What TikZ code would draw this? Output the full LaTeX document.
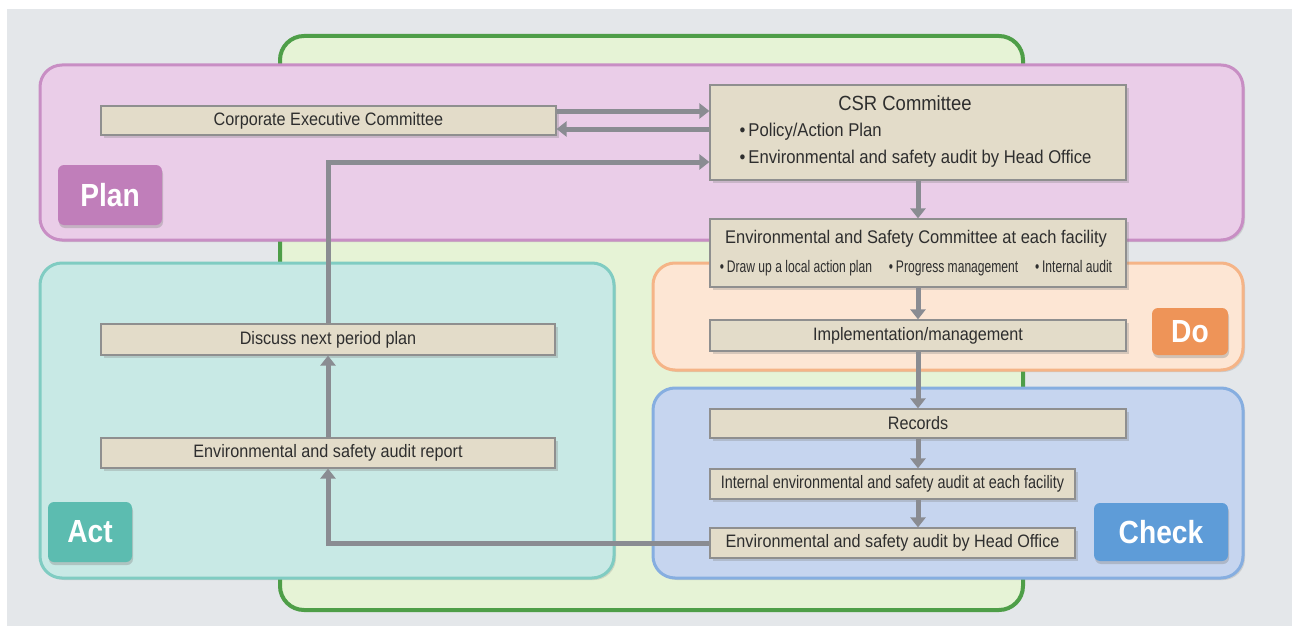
\documentclass[tikz,border=0pt]{standalone}
\usepackage{fontspec}
\setmainfont{Liberation Sans}[FakeStretch=0.9]
\newfontfamily\narrowfont{Liberation Sans}[FakeStretch=0.8]
\newfontfamily\tinyfont{Liberation Sans}[FakeStretch=0.72]
\newfontfamily\stagefont{Liberation Sans}[FakeStretch=0.88]
\usetikzlibrary{arrows.meta}
\usetikzlibrary{shadows}

\definecolor{bggray}{HTML}{E4E7EA}
\definecolor{greenfill}{HTML}{E6F3D6}
\definecolor{greenline}{HTML}{4E9E48}
\definecolor{planfill}{HTML}{EACDE8}
\definecolor{planline}{HTML}{C88EC4}
\definecolor{actfill}{HTML}{C8E9E5}
\definecolor{actline}{HTML}{80CCC2}
\definecolor{dofill}{HTML}{FDE6D4}
\definecolor{doline}{HTML}{F5B487}
\definecolor{checkfill}{HTML}{C6D5EF}
\definecolor{checkline}{HTML}{86AEE0}
\definecolor{boxfill}{HTML}{E3DCC9}
\definecolor{boxline}{HTML}{8F8F8F}
\definecolor{arrowgray}{HTML}{8A8C92}
\definecolor{textgray}{HTML}{2E2E2E}
\definecolor{plantag}{HTML}{C07EBA}
\definecolor{acttag}{HTML}{5CBCB0}
\definecolor{dotag}{HTML}{EE9458}
\definecolor{checktag}{HTML}{5E9CD8}

\begin{document}
\begin{tikzpicture}[x=1pt, y=-1pt,
		region/.style={line width=3pt, rounded corners=22pt,
			drop shadow={shadow xshift=2pt, shadow yshift=-2pt, opacity=0.25}},
		stagetag/.style={rounded corners=6pt, inner sep=0pt, text=white,
			font=\stagefont\bfseries\fontsize{32}{32}\selectfont,
			drop shadow={shadow xshift=1pt, shadow yshift=-3pt, opacity=0.35}},
		itembox/.style={draw=boxline, fill=boxfill, line width=1.2pt, inner sep=0pt,
			text=textgray, font=\fontsize{18}{20}\selectfont,
			drop shadow={shadow xshift=3pt, shadow yshift=-3pt, opacity=0.3}},
		flow/.style={draw=arrowgray, line width=5pt, -{Triangle[width=15pt,length=10pt]}},
	]
	\useasboundingbox (0,0) rectangle (1294,626);
	\fill[bggray] (7,9) rectangle (1292,626);

	% regions
	\filldraw[greenline, fill=greenfill, line width=4pt, rounded corners=24pt] (280,36) rectangle (1023,610);
	\filldraw[region, draw=planline, fill=planfill] (40,65) rectangle (1243,240);
	\filldraw[region, draw=actline, fill=actfill] (40,263) rectangle (614,578);
	\filldraw[region, draw=doline, fill=dofill] (653,263) rectangle (1243,370);
	\filldraw[region, draw=checkline, fill=checkfill] (653,388) rectangle (1243,578);

	% stage tags
	\node[stagetag, fill=plantag, minimum width=104pt, minimum height=60pt] (plan) at (110,195) {Plan};
	\node[stagetag, fill=acttag, minimum width=84pt, minimum height=60pt] (act) at (90,532) {Act};
	\node[stagetag, fill=dotag, minimum width=76pt, minimum height=47pt] (do) at (1190,331.5) {Do};
	\node[stagetag, fill=checktag, minimum width=134pt, minimum height=58pt] (check) at (1161,532) {Check};

	% boxes
	\node[itembox, minimum width=455pt, minimum height=29pt] (corp) at (328.5,120.5) {Corporate Executive Committee};
	\node[itembox, minimum width=416pt, minimum height=95pt] (csr) at (918,132.5) {};
	\node[text=textgray, font=\fontsize{20.5}{22}\selectfont] (csrtitle) at (905,103) {CSR Committee};
	\node[anchor=west, text=textgray, font=\fontsize{18.5}{20}\selectfont] (csrpolicy) at (736,132) {\textbullet\,Policy/Action Plan};
	\node[anchor=west, text=textgray, font=\fontsize{18.5}{20}\selectfont] (csraudit) at (736,159) {\textbullet\,Environmental and safety audit by Head Office};

	\node[itembox, minimum width=416pt, minimum height=68pt] (envc) at (918,253) {};
	\node[text=textgray, font=\fontsize{18.3}{20}\selectfont] (envctitle) at (916,239) {Environmental and Safety Committee at each facility};
	\node[text=textgray, font=\tinyfont\fontsize{16.8}{18}\selectfont] (envcitems) at (916,268)
		{\textbullet\,Draw up a local action plan\quad\textbullet\,Progress management\quad\textbullet\,Internal audit};

	\node[itembox, minimum width=416pt, minimum height=31pt] (impl) at (918,335.5) {Implementation/management};
	\node[itembox, minimum width=416pt, minimum height=29pt] (rec) at (918,423.5) {Records};
	\node[itembox, minimum width=365pt, minimum height=30pt, font=\narrowfont\fontsize{18}{20}\selectfont] (intaudit) at (892.5,484)
		{Internal environmental and safety audit at each facility};
	\node[itembox, minimum width=365pt, minimum height=30pt] (hoaudit) at (892.5,543) {Environmental and safety audit by Head Office};

	\node[itembox, minimum width=454pt, minimum height=31pt] (disc) at (328,339.5) {Discuss next period plan};
	\node[itembox, minimum width=454pt, minimum height=30pt] (report) at (328,453) {Environmental and safety audit report};

	% arrows
	\draw[flow] ([yshift=9.5pt]corp.east) -- ([yshift=9.5pt]corp.east -| csr.west);
	\draw[flow] ([yshift=-8.5pt]corp.east -| csr.west) -- ([yshift=-8.5pt]corp.east);
	\draw[flow] (disc.north) |- ([yshift=-29.5pt]csr.west);
	\draw[flow] (report.north) -- (disc.south);
	\draw[flow] (hoaudit.west) -| (report.south);
	\draw[flow] (csr.south) -- (envc.north);
	\draw[flow] (envc.south) -- (impl.north);
	\draw[flow] (impl.south) -- (rec.north);
	\draw[flow] (rec.south) -- (rec.south |- intaudit.north);
	\draw[flow] (rec.south |- intaudit.south) -- (rec.south |- hoaudit.north);
\end{tikzpicture}
\end{document}
